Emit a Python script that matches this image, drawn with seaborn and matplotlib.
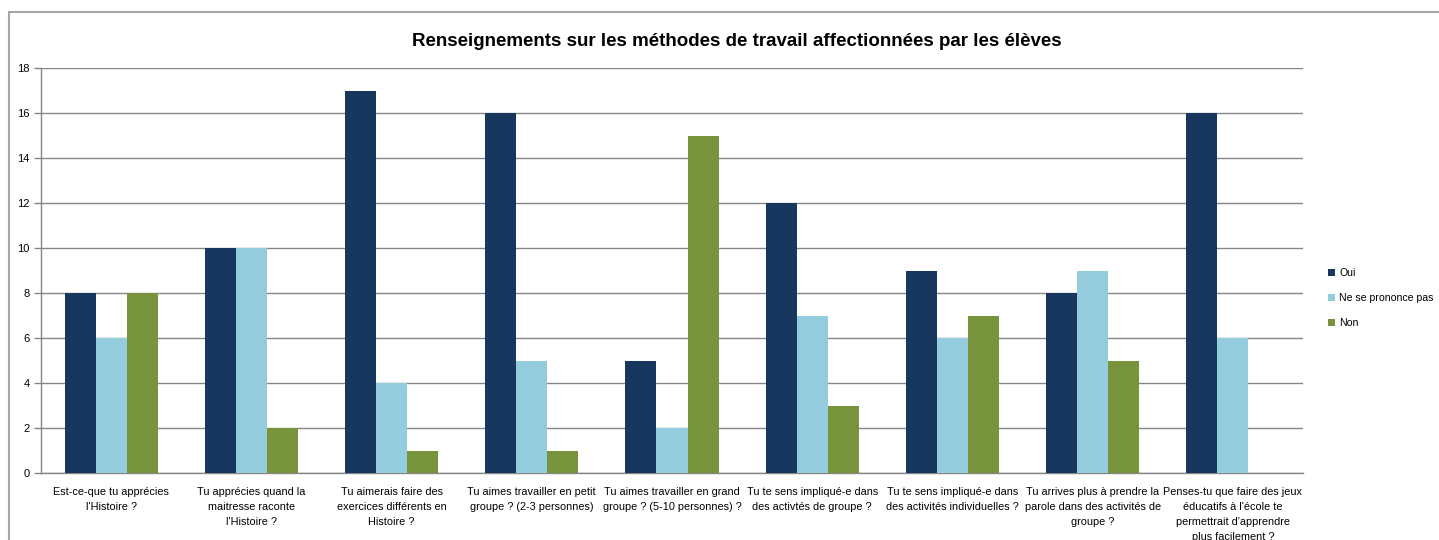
import matplotlib
matplotlib.use("Agg")
import matplotlib.pyplot as plt
import seaborn as sns
import pandas as pd
from matplotlib.patches import Rectangle

# Data
questions = [
    "Est-ce-que tu apprécies\nl'Histoire ?",
    "Tu apprécies quand la\nmaitresse raconte\nl'Histoire ?",
    "Tu aimerais faire des\nexercices différents en\nHistoire ?",
    "Tu aimes travailler en petit\ngroupe ? (2-3 personnes)",
    "Tu aimes travailler en grand\ngroupe ? (5-10 personnes) ?",
    "Tu te sens impliqué-e dans\ndes activtés de groupe ?",
    "Tu te sens impliqué-e dans\ndes activités individuelles ?",
    "Tu arrives plus à prendre la\nparole dans des activités de\ngroupe ?",
    "Penses-tu que faire des jeux\néducatifs à l'école te\npermettrait d'apprendre\nplus facilement ?",
]
answers = ["Oui", "Ne se prononce pas", "Non"]
oui = [8, 10, 17, 16, 5, 12, 9, 8, 16]
nsp = [6, 10, 4, 5, 2, 7, 6, 9, 6]
non = [8, 2, 1, 1, 15, 3, 7, 5, 0]
colors = ["#17375E", "#93CDDD", "#77933C"]
yticks = list(range(0, 19, 2))

rows = []
for q, a, b, c in zip(questions, oui, nsp, non):
    rows.append({"question": q, "reponse": answers[0], "n": a})
    rows.append({"question": q, "reponse": answers[1], "n": b})
    rows.append({"question": q, "reponse": answers[2], "n": c})
df = pd.DataFrame(rows)

sns.set_style("white")
plt.rcParams["font.family"] = ["Liberation Sans", "DejaVu Sans"]
plt.rcParams["text.color"] = "black"
plt.rcParams["xtick.color"] = "black"
plt.rcParams["ytick.color"] = "black"

fig = plt.figure(figsize=(14.39, 5.4), dpi=100)
ax = fig.add_axes([41 / 1439, 1 - 473 / 540, (1303 - 41) / 1439, (473 - 68) / 540])

sns.barplot(data=df, x="question", y="n", hue="reponse", order=questions,
            hue_order=answers, palette=colors, width=0.664, saturation=1,
            linewidth=0, ax=ax, zorder=3)

ax.set_xlim(-0.5, len(questions) - 0.5)
ax.set_ylim(0, 18)
ax.set_yticks(yticks)
ax.set_yticklabels([str(v) for v in yticks], fontsize=8)
ax.grid(axis="y", color="#868686", linewidth=1, zorder=0)
ax.set_xlabel("")
ax.set_ylabel("")

# category labels centred, tick marks on the boundaries
ax.set_xticks(range(len(questions)))
ax.set_xticklabels(questions, fontsize=7.8, linespacing=1.62)
ax.tick_params(axis="x", which="major", length=0, pad=10)
ax.set_xticks([i - 0.5 for i in range(len(questions) + 1)], minor=True)
ax.tick_params(axis="x", which="minor", length=5, color="#868686", width=1)
ax.tick_params(axis="y", length=5, color="#868686", width=1, pad=3, left=True)

for side in ["top", "right"]:
    ax.spines[side].set_visible(False)
for side in ["left", "bottom"]:
    ax.spines[side].set_color("#868686")
    ax.spines[side].set_linewidth(1)

handles, labels = ax.get_legend_handles_labels()
ax.legend(handles, labels, loc="center left", bbox_to_anchor=(1318 / 1439, 1 - 298 / 540),
          bbox_transform=fig.transFigure, frameon=False, fontsize=7.6,
          handlelength=0.7, handleheight=0.7, handletextpad=0.4, labelspacing=1.42)

fig.text(737 / 1439, 1 - 41 / 540,
         "Renseignements sur les méthodes de travail affectionnées par les élèves",
         ha="center", va="center", fontsize=13.5, fontweight="bold")

# outer chart frame
fig.patches.append(Rectangle((9 / 1439, -0.1), 1.2, 1 - 12 / 540 + 0.1,
                             transform=fig.transFigure, fill=False,
                             edgecolor="#A6A6A6", linewidth=1.5))

fig.savefig("out.png", dpi=100)
